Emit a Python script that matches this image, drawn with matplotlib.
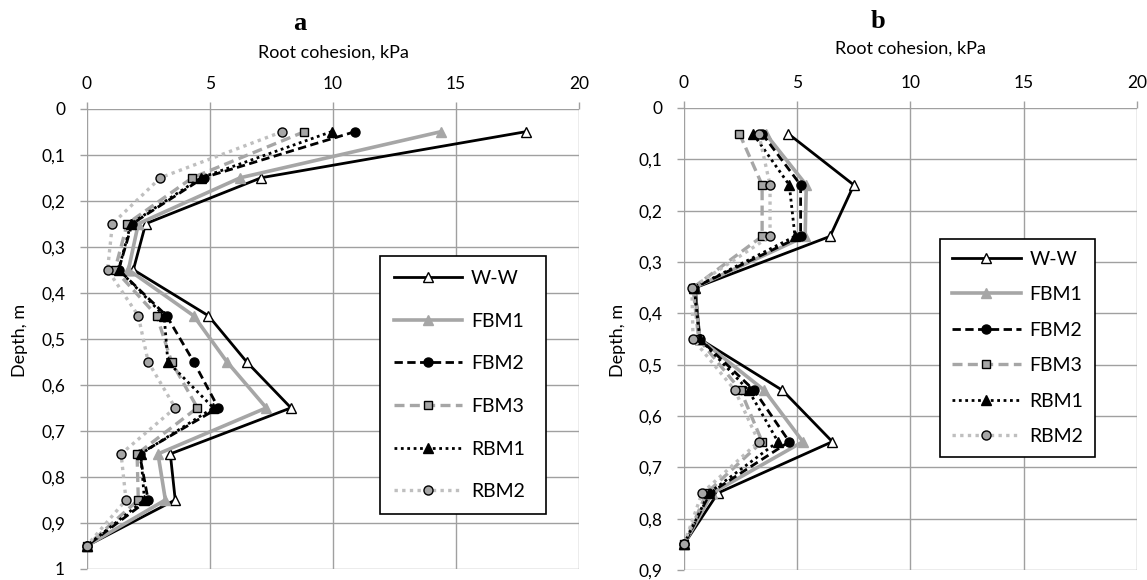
import matplotlib
matplotlib.use("Agg")
import matplotlib.pyplot as plt
from matplotlib.ticker import FuncFormatter, MultipleLocator

# Data (root cohesion in kPa vs depth in m)
depth_a = [0.05, 0.15, 0.25, 0.35, 0.45, 0.55, 0.65, 0.75, 0.85, 0.95]
ww_a = [17.85, 7.1, 2.4, 1.9, 4.95, 6.5, 8.3, 3.4, 3.6, 0]
fbm1_a = [14.4, 6.25, 2.1, 1.7, 4.35, 5.7, 7.3, 2.9, 3.2, 0]
fbm2_a = [10.9, 4.75, 1.85, 1.3, 3.25, 4.35, 5.35, 2.15, 2.5, 0]
fbm3_a = [8.85, 4.3, 1.65, 1.15, 2.85, 3.45, 4.5, 2.05, 2.1, 0]
rbm1_a = [9.95, 4.65, 1.8, 1.3, 3.15, 3.3, 5.15, 2.2, 2.35, 0]
rbm2_a = [7.95, 3.0, 1.05, 0.85, 2.1, 2.5, 3.6, 1.4, 1.6, 0]

depth_b = [0.05, 0.15, 0.25, 0.35, 0.45, 0.55, 0.65, 0.75, 0.85]
ww_b = [4.6, 7.5, 6.45, 0.5, 0.7, 4.35, 6.55, 1.5, 0]
fbm1_b = [3.6, 5.4, 5.35, 0.45, 0.7, 3.55, 5.25, 1.25, 0]
fbm2_b = [3.45, 5.15, 5.15, 0.45, 0.7, 3.1, 4.65, 1.15, 0]
fbm3_b = [2.45, 3.45, 3.45, 0.4, 0.65, 2.5, 3.45, 1.0, 0]
rbm1_b = [3.05, 4.65, 4.9, 0.45, 0.7, 2.85, 4.15, 1.1, 0]
rbm2_b = [3.3, 3.8, 3.8, 0.35, 0.4, 2.25, 3.3, 0.8, 0]

labels = ["W-W", "FBM1", "FBM2", "FBM3", "RBM1", "RBM2"]

GRAY = "#a6a6a6"
LGRAY = "#bfbfbf"
GRID = "#a0a0a0"

styles = [
    dict(color="black", ls="-", lw=2.0, marker="^", mfc="white", mec="black", ms=6.5),
    dict(color=GRAY, ls="-", lw=2.6, marker="^", mfc=GRAY, mec=GRAY, ms=6.5),
    dict(color="black", ls=(0, (3, 1.6)), lw=2.0, marker="o", mfc="black", mec="black", ms=6.5),
    dict(color=GRAY, ls=(0, (3, 1.6)), lw=2.4, marker="s", mfc=GRAY, mec="black", ms=6),
    dict(color="black", ls=(0, (1, 1.3)), lw=2.0, marker="^", mfc="black", mec="black", ms=6.5),
    dict(color=LGRAY, ls=(0, (1, 1.3)), lw=2.4, marker="o", mfc=GRAY, mec="black", ms=6.5),
]

plt.rcParams["font.family"] = ["Lato", "DejaVu Sans"]

fig = plt.figure(figsize=(11.47, 5.8), dpi=100)
ax_a = fig.add_axes([0.0755, 0.019, 0.4293, 0.7937])
ax_b = fig.add_axes([0.5963, 0.0172, 0.395, 0.7966])

comma = FuncFormatter(lambda v, p: ("%g" % round(v, 2)).replace(".", ","))


def setup(ax, ymax):
    ax.set_xlim(0, 20)
    ax.set_ylim(ymax, 0)
    ax.xaxis.set_major_locator(MultipleLocator(5))
    ax.yaxis.set_major_locator(MultipleLocator(0.1))
    ax.yaxis.set_major_formatter(comma)
    ax.xaxis.tick_top()
    ax.grid(True, color=GRID, lw=1.0)
    ax.set_axisbelow(True)
    for s in ax.spines.values():
        s.set_visible(False)
    ax.tick_params(axis="both", colors=GRID, length=5, width=1.0, labelsize=12.5,
                   labelcolor="black", pad=10.5)
    ax.tick_params(axis="x", pad=7)


setup(ax_a, 1.0)
setup(ax_b, 0.9)

series_a = [ww_a, fbm1_a, fbm2_a, fbm3_a, rbm1_a, rbm2_a]
series_b = [ww_b, fbm1_b, fbm2_b, fbm3_b, rbm1_b, rbm2_b]

for vals, lab, st in zip(series_a, labels, styles):
    ax_a.plot(vals, depth_a, label=lab, clip_on=False, **st)
for vals, lab, st in zip(series_b, labels, styles):
    ax_b.plot(vals, depth_b, label=lab, clip_on=False, **st)

leg_a = ax_a.legend(loc="upper left", bbox_to_anchor=(0.596, 0.36, 0.337, 0.32),
                    mode="expand", borderaxespad=0,
                    fontsize=14, labelspacing=1.32, handlelength=3.5,
                    borderpad=0.72, handletextpad=0.45, fancybox=False,
                    framealpha=1, edgecolor="black")
leg_a.get_frame().set_linewidth(1.2)
leg_b = ax_b.legend(loc="upper left", bbox_to_anchor=(0.566, 0.397, 0.341, 0.32),
                    mode="expand", borderaxespad=0,
                    fontsize=14, labelspacing=0.95, handlelength=3.5,
                    borderpad=0.62, handletextpad=0.45, fancybox=False,
                    framealpha=1, edgecolor="black")
leg_b.get_frame().set_linewidth(1.2)

# titles and axis labels
fig.text(300 / 1147, 1 - 24 / 580, "a", ha="center", va="center",
         family="Liberation Serif", fontweight="bold", fontsize=19)
fig.text(878 / 1147, 1 - 21 / 580, "b", ha="center", va="center",
         family="Liberation Serif", fontweight="bold", fontsize=19)
fig.text(333 / 1147, 1 - 53 / 580, "Root cohesion, kPa", ha="center", va="center", fontsize=13)
fig.text(910 / 1147, 1 - 49 / 580, "Root cohesion, kPa", ha="center", va="center", fontsize=13)
fig.text(20 / 1147, 1 - 340 / 580, "Depth, m", ha="center", va="center", rotation=90, fontsize=13)
fig.text(618 / 1147, 1 - 340 / 580, "Depth, m", ha="center", va="center", rotation=90, fontsize=13)

fig.savefig("out.png", dpi=100)
